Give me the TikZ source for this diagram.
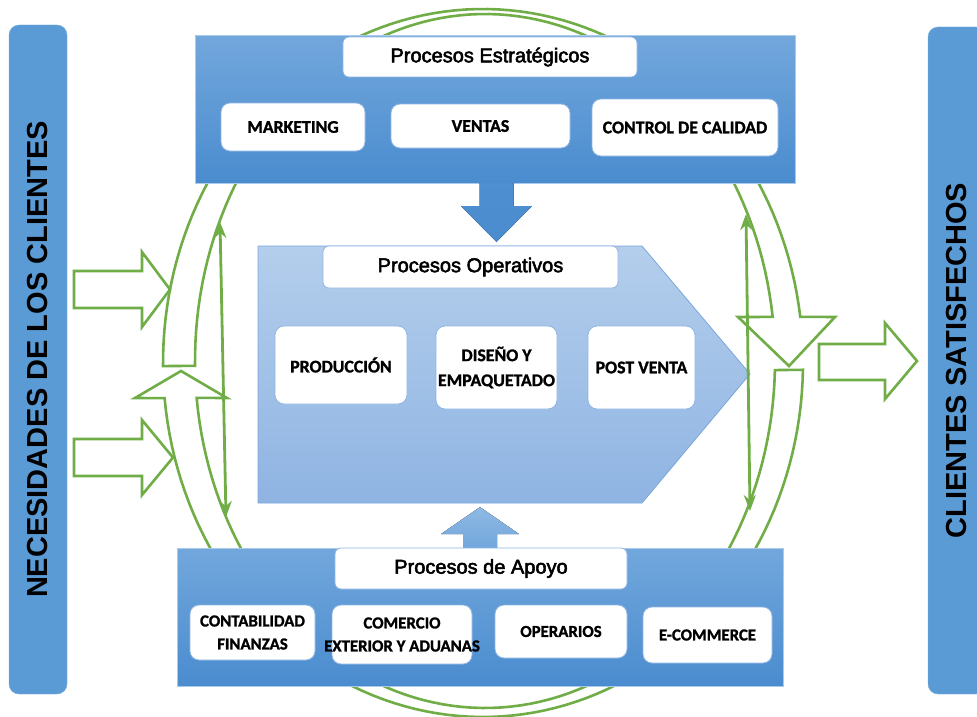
\documentclass[tikz,border=0pt]{standalone}
\usepackage{fontspec}
\setmainfont{Liberation Sans}
\newfontfamily\headfont{Liberation Sans}[FakeBold=2.6]
\newfontfamily\calibri{Carlito}[BoldFeatures={FakeBold=1.3}]
\usetikzlibrary{arrows.meta}

\definecolor{barblue}{HTML}{5B9BD5}
\definecolor{paneltop}{HTML}{72A7DC}
\definecolor{panelbot}{HTML}{4A8CCF}
\definecolor{optop}{HTML}{B4CEEC}
\definecolor{opbot}{HTML}{8FB4E2}
\definecolor{opedge}{HTML}{7AA6DC}
\definecolor{tagedge}{HTML}{8FB5E3}
\definecolor{leaf}{HTML}{70AD47}

\begin{document}
\begin{tikzpicture}[x=1pt,y=-1pt,
  bar/.style={fill=barblue,draw=barblue!85!white,rounded corners=10pt,inner sep=0pt,
    font=\bfseries\fontsize{29}{34}\selectfont},
  panel/.style={top color=paneltop,bottom color=panelbot,draw=paneltop!60!white,line width=0.8pt,
    inner sep=0pt,anchor=north west},
  heading/.style={fill=white,draw=tagedge,line width=0.8pt,rounded corners=6pt,inner sep=0pt,
    font=\headfont\fontsize{20}{24}\selectfont},
  tag/.style={fill=white,draw=tagedge,line width=0.8pt,rounded corners=9pt,inner sep=0pt,align=center,
    font=\calibri\bfseries\fontsize{17.8}{25}\selectfont},
  smalltag/.style={tag,font=\calibri\bfseries\fontsize{16.8}{23}\selectfont},
  band/.style={draw=leaf,line width=2.6pt,fill=white},
  feed/.style={draw=leaf,line width=2.6pt,fill=white},
  link/.style={draw=leaf,line width=2.8pt,{Stealth[length=16pt,width=12pt]}-{Stealth[length=16pt,width=12pt]}}]

\useasboundingbox (0,0) rectangle (977,717);

\node[bar,rotate=90,minimum width=669pt,minimum height=58pt] (needs) at (38,359.5) {NECESIDADES DE LOS CLIENTES};
\node[bar,rotate=90,minimum width=667pt,minimum height=58pt] (happy) at (957,360.5) {CLIENTES SATISFECHOS};

\draw[band] plot[domain=179.5:352.5,samples=90] ({483+320*cos(\x)},{363+354*sin(\x)})
  -- (835,317) -- (789,366) -- (738,317)
  -- plot[domain=352.7:179.2,samples=90] ({485+290*cos(\x)},{361+347*sin(\x)}) -- cycle;
\draw[band] plot[domain=1.1:174.3,samples=90] ({483+320*cos(\x)},{363+354*sin(\x)})
  -- (135,398) -- (181,371) -- (227,398)
  -- plot[domain=173.9:1.5,samples=90] ({485+290*cos(\x)},{361+347*sin(\x)}) -- cycle;

\node[panel,minimum width=600pt,minimum height=148pt] (estrat) at (195,35) {};
\node[heading,minimum width=294pt,minimum height=40pt] (estrattitle) at (490,57) {Procesos Estratégicos};
\node[tag,minimum width=144pt,minimum height=48pt] (marketing) at (293,127) {MARKETING};
\node[tag,minimum width=179pt,minimum height=44pt] (ventas) at (480.5,126) {VENTAS};
\node[tag,minimum width=186pt,minimum height=57pt] (calidad) at (685,127.5) {CONTROL DE CALIDAD};

\node[panel,minimum width=606pt,minimum height=138pt] (apoyo) at (177,548) {};

\fill[top color=panelbot!90!paneltop,bottom color=panelbot] (479.5,183) -- (513.5,183) -- (513.5,206)
  -- (532,206) -- (496.5,242) -- (461,206) -- (479.5,206) -- cycle;
\fill[top color=paneltop!80!white,bottom color=paneltop] (463,548) -- (497,548) -- (497,534)
  -- (519,534) -- (480,507) -- (441,534) -- (463,534) -- cycle;

\draw[top color=optop,bottom color=opbot,draw=opedge,line width=0.8pt]
  (258,246) -- (642,246) -- (750,374) -- (642,503) -- (258,503) -- cycle;
\node[heading,minimum width=295pt,minimum height=42pt] (opertitle) at (470.5,267) {Procesos Operativos};
\node[tag,minimum width=132pt,minimum height=78pt] (produccion) at (341,365) {PRODUCCIÓN};
\node[tag,minimum width=121pt,minimum height=83pt] (diseno) at (496.5,367.5) {DISEÑO Y\\EMPAQUETADO};
\node[tag,minimum width=107pt,minimum height=83pt] (postventa) at (641.5,367.5) {POST VENTA};

\node[heading,minimum width=292pt,minimum height=41pt] (apoyotitle) at (481,568.5) {Procesos de Apoyo};
\node[smalltag,minimum width=125pt,minimum height=55pt] (finanzas) at (252.5,632.5) {CONTABILIDAD\\FINANZAS};
\node[smalltag,minimum width=140pt,minimum height=59pt] (comercio) at (402,634.5) {};
\node[align=center,inner sep=0pt,font=\calibri\bfseries\fontsize{16.8}{23}\selectfont] (comerciotxt)
  at (comercio) {COMERCIO\\EXTERIOR Y ADUANAS};
\node[smalltag,minimum width=132pt,minimum height=53pt] (operarios) at (561,631.5) {OPERARIOS};
\node[smalltag,minimum width=129pt,minimum height=56pt] (ecommerce) at (707.5,635) {E-COMMERCE};

\coordinate (lefttop) at (220,222);
\coordinate (leftbot) at (226,517);
\coordinate (righttop) at (746,214);
\coordinate (rightbot) at (750,511);
\draw[link] (lefttop) -- (leftbot);
\draw[link] (righttop) -- (rightbot);

\foreach \y/\t in {289.5/170,457.5/173}
  \draw[feed] (74,\y-18.5) -- (142,\y-18.5) -- (142,\y-37.5) -- (\t,\y) -- (142,\y+37.5)
    -- (142,\y+18.5) -- (74,\y+18.5) -- cycle;
\draw[feed] (819,344) -- (885,344) -- (885,323) -- (917,361) -- (885,399) -- (885,380) -- (819,380) -- cycle;

\end{tikzpicture}
\end{document}
